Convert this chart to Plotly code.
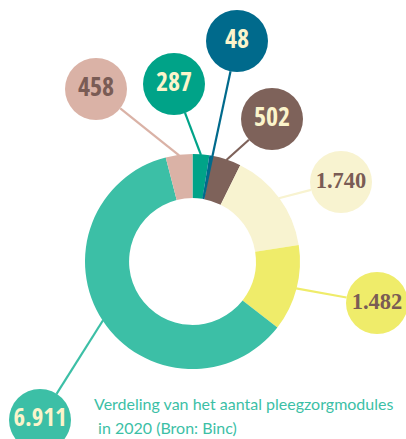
import math
import plotly.graph_objects as go

# ---- data ----
categories = ["A", "B", "C", "D", "E", "F", "G"]
values = [287, 48, 502, 1740, 1482, 6911, 458]
caption_lines = ["Verdeling van het aantal pleegzorgmodules", " in 2020 (Bron: Binc)"]

# ---- styles / layout ----
W, H = 406, 439
slice_colors = ["#00A388", "#006A8C", "#7E625A", "#F8F3D0", "#EFEC6A", "#3CBFA6", "#DAB2A6"]
text_colors = ["#FBF4CB", "#FBF4CB", "#FBF4CB", "#7A5C55", "#7A5C55", "#FBF4CB", "#7A5C55"]
sans = "Open Sans Condensed, Roboto, sans-serif"
serif = "Liberation Serif, DejaVu Serif, serif"
caption_font = "Lato, Roboto, sans-serif"
label_fonts = [sans, sans, sans, serif, serif, sans, sans]
label_sizes = [26, 26, 26, 22.5, 22.5, 25, 26]
bubble_pos = [(174, 84), (237, 41), (272, 119), (341, 182), (377, 303), (40, 420), (96, 89)]
anchor_r = [107, 64, 107, 107, 107, 107, 107]
bubble_r = 31
cx, cy, R = 192.5, 261.5, 107.5

fig = go.Figure()
fig.add_trace(go.Pie(
    values=values, labels=categories, sort=False, direction="clockwise", rotation=0,
    hole=0.59, marker=dict(colors=slice_colors, line=dict(width=0)),
    textinfo="none", hoverinfo="skip", showlegend=False,
    domain=dict(x=[(cx - R) / W, (cx + R) / W], y=[(H - cy - R) / H, (H - cy + R) / H]),
))

total = sum(values)
cum = 0
shapes = []
for i, v in enumerate(values):
    mid = (cum + v / 2) / total * 2 * math.pi
    cum += v
    ax_ = cx + anchor_r[i] * math.sin(mid)
    ay_ = cy - anchor_r[i] * math.cos(mid)
    bx, by = bubble_pos[i]
    d = math.hypot(ax_ - bx, ay_ - by)
    ex = bx + (ax_ - bx) * bubble_r / d
    ey = by + (ay_ - by) * bubble_r / d
    shapes.append(dict(type="line", xref="x", yref="y", x0=ex, y0=ey, x1=ax_, y1=ay_,
                       line=dict(color=slice_colors[i], width=2.2), layer="above"))

labels = [f"{v:,}".replace(",", ".") for v in values]
for i in range(len(values)):
    fig.add_trace(go.Scatter(
        x=[bubble_pos[i][0]], y=[bubble_pos[i][1]], mode="markers+text",
        marker=dict(size=2 * bubble_r, color=slice_colors[i], line=dict(width=0)),
        text=[f"<b>{labels[i]}</b>"], textposition="middle center",
        textfont=dict(family=label_fonts[i], size=label_sizes[i], color=text_colors[i]),
        hoverinfo="skip", showlegend=False, cliponaxis=False,
    ))

for j, (line, yy) in enumerate(zip(caption_lines, [403, 427])):
    fig.add_annotation(x=92, y=yy, xref="x", yref="y", xanchor="left", yanchor="middle",
                       text=line, showarrow=False,
                       font=dict(family=caption_font, size=16, weight=400, color="#3CBFA6"))

fig.update_layout(
    width=W, height=H, margin=dict(l=0, r=0, t=0, b=0),
    paper_bgcolor="white", plot_bgcolor="rgba(0,0,0,0)",
    xaxis=dict(range=[0, W], visible=False, fixedrange=True),
    yaxis=dict(range=[H, 0], visible=False, fixedrange=True),
    shapes=shapes,
)
fig.write_html("out.html", config={"displayModeBar": False},
               post_script="document.body.style.margin='0';document.body.style.overflow='hidden';")
